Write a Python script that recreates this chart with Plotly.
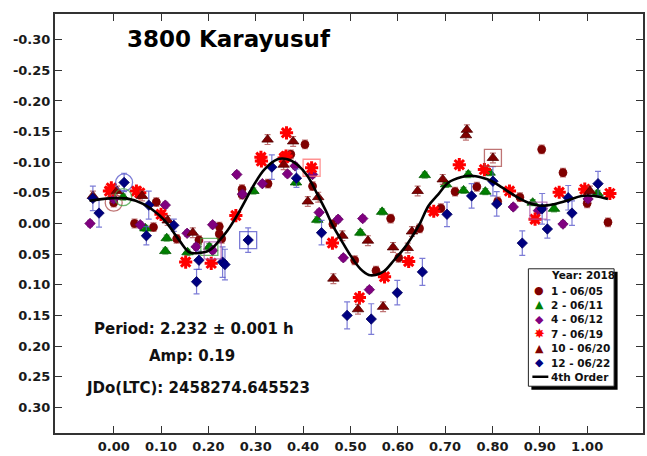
import plotly.graph_objects as go

# ---------------- data ----------------
phase1 = [0.000, 0.044, 0.084, 0.090, 0.133, 0.180, 0.223, 0.223, 0.228, 0.271, 0.271, 0.326, 0.374, 0.404, 0.420,
          0.463, 0.509, 0.554, 0.585, 0.602, 0.646, 0.691, 0.721, 0.767, 0.811, 0.858, 0.904, 0.949, 1.000, 1.044]
mag1 = [-0.034, 0.000, 0.006, -0.035, 0.025, 0.027, 0.005, 0.017, 0.025, -0.056, -0.047, -0.065, -0.113, -0.129, -0.061,
        0.001, 0.060, 0.077, -0.008, 0.056, 0.008, -0.025, -0.052, -0.060, -0.036, -0.043, -0.121, -0.083, -0.033, -0.002]

phase2 = [0.020, 0.067, 0.109, 0.112, 0.156, 0.202, 0.295, 0.385, 0.430, 0.521, 0.567, 0.657, 0.702, 0.739, 0.749,
          0.785, 0.794, 0.885, 0.930, 1.022]
mag2 = [-0.043, 0.008, 0.045, 0.024, 0.047, 0.038, -0.053, -0.067, -0.006, 0.015, -0.019, -0.079, -0.064, -0.054, -0.080,
        -0.052, -0.083, -0.034, -0.024, -0.049]

phase4 = [-0.050, 0.000, 0.056, 0.109, 0.155, 0.174, 0.209, 0.209, 0.260, 0.272, 0.314, 0.367, 0.383, 0.420, 0.434,
          0.474, 0.485, 0.526, 0.540, 0.844, 0.897, 0.949, 1.002]
mag4 = [0.000, -0.040, 0.002, -0.030, 0.016, 0.038, 0.044, 0.002, -0.080, -0.048, -0.065, -0.081, -0.094, -0.080, -0.018,
        -0.007, 0.056, -0.008, 0.108, -0.027, -0.021, 0.001, -0.040]

phase7 = [-0.009, -0.005, 0.048, 0.055, 0.100, 0.152, 0.206, 0.258, 0.311, 0.312, 0.360, 0.364, 0.365, 0.418, 0.462,
          0.519, 0.572, 0.623, 0.676, 0.730, 0.783, 0.836, 0.890, 0.941, 0.995, 1.048]
mag7 = [-0.053, -0.058, -0.053, -0.050, -0.015, 0.063, 0.065, -0.013, -0.108, -0.102, -0.107, -0.110, -0.148, -0.091, 0.032,
        0.121, 0.087, 0.062, -0.020, -0.096, -0.088, -0.053, -0.007, -0.051, -0.056, -0.049]

phase10 = [-0.044, 0.007, 0.060, 0.114, 0.167, 0.325, 0.359, 0.379, 0.410, 0.432, 0.464, 0.483, 0.516, 0.537, 0.569,
           0.590, 0.621, 0.630, 0.642, 0.695, 0.744, 0.746, 0.801, 1.006]
mag10 = [-0.045, -0.053, -0.045, -0.005, 0.015, -0.137, -0.096, -0.134, -0.036, -0.043, 0.090, 0.020, 0.140, 0.028, 0.136,
         0.039, 0.040, 0.013, -0.053, -0.072, -0.144, -0.153, -0.107, -0.053]

phase12 = [-0.044, -0.031, 0.022, 0.069, 0.074, 0.127, 0.175, 0.180, 0.230, 0.235, 0.284, 0.334, 0.386, 0.439, 0.493,
           0.544, 0.599, 0.652, 0.704, 0.756, 0.801, 0.809, 0.863, 0.905, 0.916, 0.960, 0.968, 1.023]
mag12 = [-0.041, -0.017, -0.067, 0.020, -0.030, 0.003, 0.095, 0.060, 0.063, 0.067, 0.027, -0.092, -0.074, 0.015, 0.150,
         0.156, 0.113, 0.079, -0.015, -0.045, -0.069, -0.032, 0.032, -0.024, 0.009, -0.042, -0.017, -0.065]
err12 = [0.020, 0.023, 0.015, 0.015, 0.023, 0.010, 0.020, 0.015, 0.025, 0.025, 0.020, 0.020, 0.015, 0.020, 0.022,
         0.025, 0.020, 0.022, 0.020, 0.020, 0.024, 0.020, 0.020, 0.025, 0.015, 0.020, 0.020, 0.020]

err1, err2, err4, err7, err10 = 0.007, 0.005, 0.005, 0.006, 0.008

# 4th order Fourier fit curve
curve_phase = [-0.051, -0.008, 0.027, 0.062, 0.097, 0.114, 0.139, 0.160, 0.181, 0.202, 0.223, 0.240, 0.265, 0.297,
               0.318, 0.346, 0.367, 0.388, 0.409, 0.430, 0.448, 0.463, 0.479, 0.500, 0.521, 0.539, 0.553, 0.571,
               0.592, 0.613, 0.634, 0.648, 0.665, 0.686, 0.707, 0.735, 0.756, 0.777, 0.799, 0.820, 0.848, 0.876,
               0.904, 0.932, 0.960, 0.988, 1.016, 1.044]
curve_mag = [-0.037, -0.041, -0.041, -0.032, -0.013, 0.001, 0.028, 0.047, 0.048, 0.044, 0.028, 0.012, -0.019, -0.064,
             -0.088, -0.105, -0.105, -0.096, -0.078, -0.048, -0.021, 0.004, 0.025, 0.052, 0.074, 0.084, 0.084, 0.078,
             0.060, 0.041, 0.017, -0.002, -0.029, -0.048, -0.067, -0.076, -0.078, -0.075, -0.069, -0.059, -0.045, -0.034,
             -0.029, -0.032, -0.038, -0.045, -0.045, -0.040]

series_names = ["1 - 06/05", "2 - 06/11", "4 - 06/12", "7 - 06/19", "10 - 06/20", "12 - 06/22"]
fit_name = "4th Order"
legend_title = "Year: 2018"

x_ticks = [0.00, 0.10, 0.20, 0.30, 0.40, 0.50, 0.60, 0.70, 0.80, 0.90, 1.00]
y_ticks = [-0.30, -0.25, -0.20, -0.15, -0.10, -0.05, 0.00, 0.05, 0.10, 0.15, 0.20, 0.25, 0.30]

chart_title = "3800 Karayusuf"
info_lines = ["Period: 2.232 ± 0.001 h", "Amp: 0.19", "JDo(LTC): 2458274.645523"]

# highlighted (ringed) points: (series index, point index, symbol)
rings = [(0, 0, "circle-open"), (5, 2, "circle-open"), (1, 0, "circle-open"),
         (3, 13, "square-open"), (5, 10, "square-open"), (1, 5, "square-open"),
         (2, 6, "square-open"), (4, 22, "square-open"), (2, 20, "square-open")]

# ---------------- styling ----------------
FONT = "DejaVu Sans"
W, H = 647, 456
ML, MR, MT, MB = 55, 2, 14, 21
PW, PH = W - ML - MR, H - MT - MB


def px_x(px):
    return (px - ML) / PW


def px_y(py):
    return (H - MB - py) / PH


series = [
    (phase1, mag1, err1, "circle", "#800000", "#7a0000", "rgba(170,70,70,0.75)", 8),
    (phase2, mag2, err2, "triangle-up", "#008000", "#005a00", "rgba(60,160,60,0.75)", 10),
    (phase4, mag4, err4, "diamond", "#800080", "#600060", "rgba(170,80,170,0.75)", 8),
    (phase7, mag7, err7, "asterisk-open", "#ff0000", "#ff0000", "rgba(255,110,110,0.75)", 11),
    (phase10, mag10, err10, "triangle-up", "#800000", "#500000", "rgba(170,70,70,0.75)", 10),
    (phase12, mag12, err12, "diamond", "#000080", "#000060", "rgba(80,80,200,0.75)", 8),
]

fig = go.Figure()

for (xs, ys, er, sym, col, edge, ecol, size), name in zip(series, series_names):
    if isinstance(er, list):
        ey = dict(type="data", array=er, visible=True, color=ecol, thickness=1.2, width=3)
    else:
        ey = dict(type="constant", value=er, visible=True, color=ecol, thickness=1.2, width=3)
    if sym == "asterisk-open":
        mk = dict(symbol=sym, size=size, color=col, line=dict(color=col, width=3))
    else:
        mk = dict(symbol=sym, size=size, color=col, line=dict(color=edge, width=0.8))
    fig.add_trace(go.Scatter(x=xs, y=ys, mode="markers", name=name, marker=mk,
                             error_y=ey, showlegend=False))

for si, pi, sym in rings:
    xs, ys, _, _, col, _, ecol, _ = series[si]
    fig.add_trace(go.Scatter(x=[xs[pi]], y=[ys[pi]], mode="markers", showlegend=False, hoverinfo="skip",
                             marker=dict(symbol=sym, size=17, color=ecol, line=dict(color=ecol, width=1.3))))

fig.add_trace(go.Scatter(x=curve_phase, y=curve_mag, mode="lines", name=fit_name, showlegend=False,
                         line=dict(color="black", width=2.6, shape="spline", smoothing=1.0)))

axis_common = dict(showline=True, linewidth=2, linecolor="#333333", mirror="ticks", ticks="inside",
                   ticklen=7, tickwidth=1.2, tickcolor="#333333", showgrid=False, zeroline=False,
                   tickfont=dict(family=FONT, size=13, color="#1a1a1a", weight="bold"))

fig.update_xaxes(range=[-0.124, 1.118], tickvals=x_ticks, tickformat=".2f", **axis_common)
fig.update_yaxes(range=[0.342, -0.342], tickvals=y_ticks, ticktext=["%.2f" % v for v in y_ticks], **axis_common)

annotations = [
    dict(text=chart_title, x=px_x(229.5), y=px_y(39), xref="paper", yref="paper", showarrow=False,
         xanchor="center", yanchor="middle", font=dict(family=FONT, size=23, color="black", weight="bold")),
]
for txt, (cx, cy) in zip(info_lines, [(194.2, 330.7), (192.5, 358), (198.3, 390)]):
    annotations.append(dict(text=txt, x=px_x(cx), y=px_y(cy), xref="paper", yref="paper", showarrow=False,
                            xanchor="center", yanchor="middle",
                            font=dict(family=FONT, size=15, color="#111111", weight="bold")))

# custom legend box
LFONT = dict(family=FONT, size=10.5, color="#111111", weight="bold")
annotations.append(dict(text=legend_title, x=px_x(551), y=px_y(276.5), xref="paper", yref="paper",
                        showarrow=False, xanchor="left", yanchor="middle", font=LFONT))
glyphs = ["●", "▲", "◆", "✸", "▲", "◆"]
glyph_cols = ["#800000", "#008000", "#800080", "#ff0000", "#800000", "#000080"]
glyph_sizes = [11, 11, 11, 13, 11, 11]
row_y = [292.3, 306.3, 320.8, 335.2, 349.6, 364.2]
for g, gc, gs, nm, ry in zip(glyphs, glyph_cols, glyph_sizes, series_names, row_y):
    annotations.append(dict(text=g, x=px_x(540.7), y=px_y(ry), xref="paper", yref="paper", showarrow=False,
                            xanchor="center", yanchor="middle", font=dict(family=FONT, size=gs, color=gc)))
    annotations.append(dict(text=nm, x=px_x(551), y=px_y(ry), xref="paper", yref="paper", showarrow=False,
                            xanchor="left", yanchor="middle", font=LFONT))
annotations.append(dict(text=fit_name, x=px_x(551), y=px_y(378.5), xref="paper", yref="paper", showarrow=False,
                        xanchor="left", yanchor="middle", font=LFONT))

shapes = [
    dict(type="rect", xref="paper", yref="paper", x0=px_x(533), x1=px_x(619.5), y0=px_y(391.5), y1=px_y(273),
         fillcolor="black", line=dict(width=0)),
    dict(type="rect", xref="paper", yref="paper", x0=px_x(530), x1=px_x(616), y0=px_y(388), y1=px_y(270),
         fillcolor="white", line=dict(color="#222222", width=1)),
    dict(type="line", xref="paper", yref="paper", x0=px_x(534), x1=px_x(550), y0=px_y(378.5), y1=px_y(378.5),
         line=dict(color="black", width=2.5)),
]

fig.update_layout(width=W, height=H, margin=dict(l=ML, r=MR, t=MT, b=MB, pad=0),
                  paper_bgcolor="white", plot_bgcolor="white", showlegend=False,
                  annotations=annotations, shapes=shapes)

fig.write_html("out.html", config={"displayModeBar": False},
               post_script="document.body.style.margin='0';")
